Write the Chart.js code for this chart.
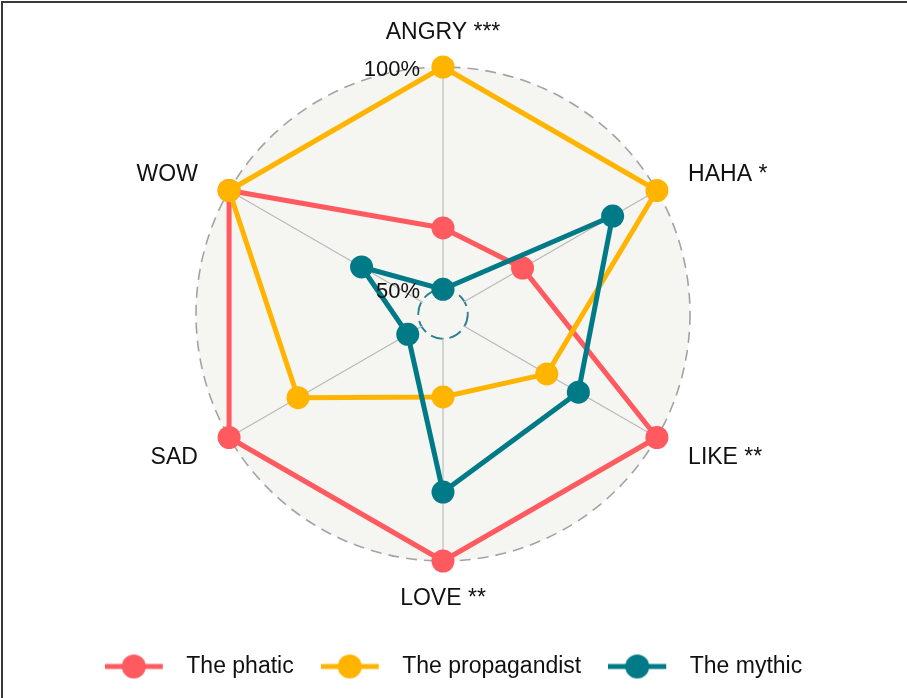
<!DOCTYPE html>
<html><head><meta charset="utf-8">
<script src="https://cdn.jsdelivr.net/npm/chart.js@4/dist/chart.umd.min.js"></script>
<style>
html,body{margin:0;padding:0;background:#fff;}
#wrap{position:relative;width:907px;height:698px;overflow:hidden;}
#wrap:before{content:'';position:absolute;left:1px;top:1px;width:906px;height:2px;background:#3a3a3a;}
#wrap:after{content:'';position:absolute;left:1px;top:1px;width:2px;height:697px;background:#3a3a3a;}
canvas{display:block;}
</style></head><body>
<div id="wrap"><canvas id="c" width="907" height="698"></canvas></div>
<script>
const categories = ['ANGRY ***', 'HAHA *', 'LIKE **', 'LOVE **', 'SAD', 'WOW'];
const seriesNames = ['The phatic', 'The propagandist', 'The mythic'];
const phatic = [63.8, 65.1, 100, 100, 100, 100];
const propagandist = [100, 100, 71.4, 63.1, 82.1, 100];
const mythic = [50.0, 88.5, 79.6, 84.5, 53.6, 65.6];
const tickValues = [50, 100];
const tickLabels = ['50%', '100%'];
const scaleMin = 50 - 50 / 9;
const scaleMax = 100;

const COLORS = ['#FF5A5F', '#FFB400', '#007A87'];
const FONT = '"Liberation Sans", Arial, Helvetica, sans-serif';
const TEXT = '#111111';
const BG = '#f5f5f2';
const LABEL_ROOM = 67;
const LABEL_PAD = 36;

function makeIcon(color) {
  const c = document.createElement('canvas');
  c.width = 70; c.height = 26;
  const g = c.getContext('2d');
  g.strokeStyle = color; g.lineWidth = 5;
  g.beginPath(); g.moveTo(0, 13); g.lineTo(58, 13); g.stroke();
  g.fillStyle = color;
  g.beginPath(); g.arc(29, 13, 12, 0, Math.PI * 2); g.fill();
  return c;
}
const icons = COLORS.map(makeIcon);

const overlay = {
  id: 'overlay',
  beforeDatasetsDraw(chart) {
    const s = chart.scales.r, ctx = chart.ctx;
    const r50 = s.getDistanceFromCenterForValue(tickValues[0]);
    ctx.save();
    ctx.fillStyle = BG;
    ctx.beginPath(); ctx.arc(s.xCenter, s.yCenter, r50 - 1.2, 0, Math.PI * 2); ctx.fill();
    ctx.restore();
  },
  afterDatasetsDraw(chart) {
    const s = chart.scales.r, ctx = chart.ctx;
    ctx.save();
    ctx.fillStyle = TEXT;
    ctx.font = '22px ' + FONT;
    ctx.textAlign = 'right'; ctx.textBaseline = 'middle';
    tickValues.forEach((v, i) => {
      const r = s.getDistanceFromCenterForValue(v);
      ctx.fillText(tickLabels[i], s.xCenter - 23, s.yCenter - r + 3);
    });
    ctx.font = '23px ' + FONT;
    chart.data.labels.forEach((lab, i) => {
      const p = s.getPointPosition(i, s.drawingArea + LABEL_PAD);
      const deg = Math.round(s.getIndexAngle(i) * 180 / Math.PI) % 360;
      ctx.textAlign = (deg === 0 || deg === 180) ? 'center' : (deg < 180 ? 'left' : 'right');
      ctx.fillText(lab, p.x, p.y + 2);
    });
    ctx.restore();
  }
};

const series = [phatic, propagandist, mythic];
new Chart(document.getElementById('c'), {
  type: 'radar',
  data: {
    labels: categories,
    datasets: series.map((d, i) => ({
      label: seriesNames[i],
      data: d,
      order: 3 - i,
      borderColor: COLORS[i],
      backgroundColor: COLORS[i],
      pointBackgroundColor: COLORS[i],
      pointBorderWidth: 0,
      pointRadius: 11.5,
      pointHoverRadius: 11.5,
      borderWidth: 5,
      borderJoinStyle: 'round',
      fill: false
    }))
  },
  options: {
    responsive: false,
    animation: false,
    devicePixelRatio: 1,
    layout: { padding: { top: 0, left: 0, right: 0, bottom: 10 } },
    scales: {
      r: {
        min: scaleMin,
        max: scaleMax,
        backgroundColor: BG,
        afterBuildTicks(s) {
          s.ticks = [{ value: scaleMin }].concat(tickValues.map(v => ({ value: v })));
        },
        afterFit(scale) {
          const ctx = scale.ctx;
          ctx.save(); ctx.font = '23px ' + FONT;
          const n = categories.length;
          let left = 0, right = 0;
          categories.forEach((t, i) => {
            const w = ctx.measureText(t).width;
            const deg = i * 360 / n;
            if (deg > 0 && deg < 180) right = Math.max(right, w);
            else if (deg > 180) left = Math.max(left, w);
          });
          ctx.restore();
          scale.xCenter = Math.floor(scale.xCenter - (right - left) / 2 - 0.5);
          scale.drawingArea = scale.drawingArea - LABEL_ROOM;
        },
        ticks: { display: false },
        pointLabels: { display: false },
        angleLines: { color: '#b8b8b8', lineWidth: 1.1 },
        grid: {
          circular: true,
          color: c => (c.tick && c.tick.value === tickValues[0]) ? '#2a8390' : '#a3a3a3',
          lineWidth: c => (c.tick && c.tick.value === tickValues[0]) ? 2 : 1.6
        },
        border: {
          dash: c => (c.tick && c.tick.value === tickValues[0]) ? [13, 6] : [11, 7]
        }
      }
    },
    plugins: {
      tooltip: { enabled: false },
      legend: {
        position: 'bottom',
        labels: {
          usePointStyle: true,
          pointStyleWidth: 70,
          padding: 27,
          color: TEXT,
          font: { family: FONT, size: 23 },
          sort: (a, b) => a.datasetIndex - b.datasetIndex,
          generateLabels(chart) {
            const items = Chart.defaults.plugins.legend.labels.generateLabels(chart);
            return items.map(it => Object.assign({}, it, { pointStyle: icons[it.datasetIndex] }));
          }
        }
      }
    }
  },
  plugins: [overlay]
});
</script>
</body></html>
